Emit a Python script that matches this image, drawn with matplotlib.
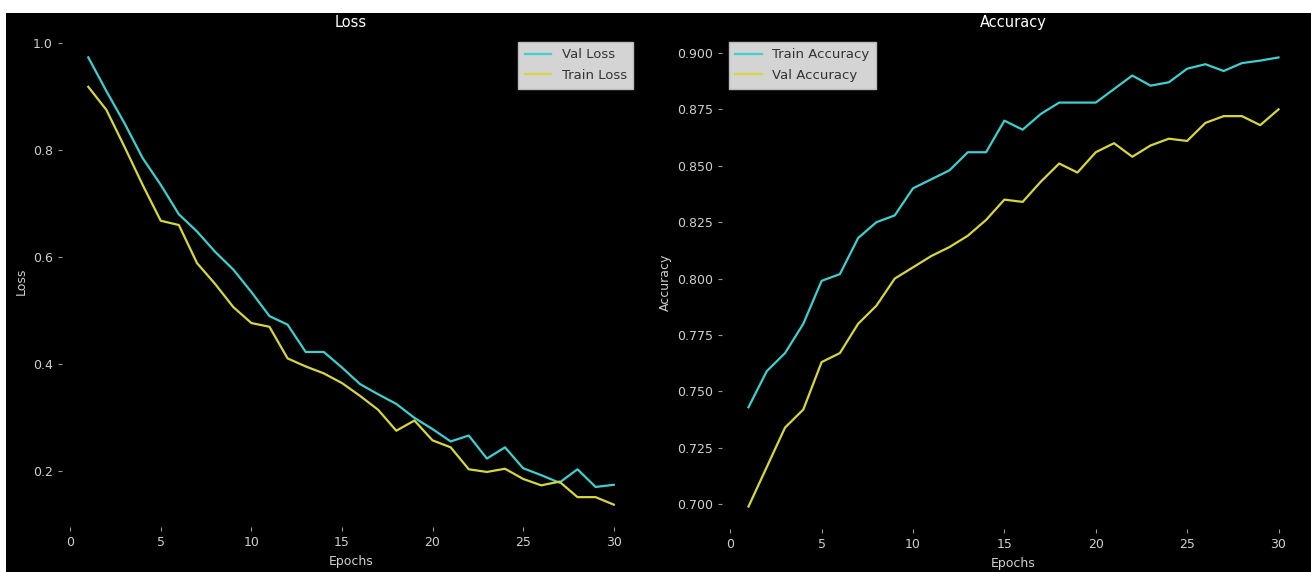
import numpy as np
import matplotlib
matplotlib.use('Agg')
from matplotlib import pyplot as plt
from matplotlib.patches import Rectangle

# data
epochs = list(range(1, 31))

val_loss = [0.973, 0.91, 0.85, 0.785, 0.735, 0.68, 0.648, 0.61, 0.577, 0.535,
            0.49, 0.474, 0.423, 0.423, 0.394, 0.363, 0.344, 0.326, 0.30, 0.279,
            0.256, 0.267, 0.224, 0.245, 0.206, 0.193, 0.179, 0.204, 0.171, 0.175]
train_loss = [0.918, 0.875, 0.806, 0.735, 0.668, 0.66, 0.589, 0.55, 0.507, 0.477,
              0.47, 0.411, 0.396, 0.383, 0.365, 0.341, 0.315, 0.276, 0.295, 0.258,
              0.245, 0.204, 0.199, 0.205, 0.186, 0.174, 0.181, 0.152, 0.152, 0.138]

train_acc = [0.743, 0.759, 0.767, 0.780, 0.799, 0.802, 0.818, 0.825, 0.828, 0.840,
             0.844, 0.848, 0.856, 0.856, 0.870, 0.866, 0.873, 0.878, 0.878, 0.878,
             0.884, 0.890, 0.8855, 0.887, 0.893, 0.895, 0.892, 0.8955, 0.8966, 0.898]
val_acc = [0.699, 0.7165, 0.734, 0.742, 0.763, 0.767, 0.780, 0.788, 0.800, 0.805,
           0.810, 0.814, 0.819, 0.826, 0.835, 0.834, 0.843, 0.851, 0.847, 0.856,
           0.860, 0.854, 0.859, 0.862, 0.861, 0.869, 0.872, 0.872, 0.868, 0.875]

cyan = '#3fcfcf'
yellow = '#d6d63e'

fig = plt.figure(figsize=(13.11, 5.72), dpi=100, facecolor='white')
# black area below the white strip at the top / left
bg = Rectangle((6/1311, 0), 1, 1 - 13/572, transform=fig.transFigure,
               facecolor='black', edgecolor='none', zorder=-10)
fig.patches.append(bg)

ax1 = fig.add_axes([62/1311, 1 - 527/572, 578/1311, 492/572])
ax2 = fig.add_axes([722/1311, 1 - 529/572, 583/1311, 494/572])

def style(ax):
    ax.set_facecolor('black')
    for s in ax.spines.values():
        s.set_visible(False)
    ax.tick_params(colors='#9a9a9a', labelcolor='#d0d0d0', labelsize=9, length=3)

leg_kw = dict(facecolor='#d4d4d4', edgecolor='#bbbbbb', framealpha=1,
              fontsize=9.5, labelcolor='#333333', labelspacing=0.6,
              borderpad=0.5, fancybox=False)

#loss plot
ax1.plot(epochs, val_loss, color=cyan, lw=1.6, label='Val Loss')
ax1.plot(epochs, train_loss, color=yellow, lw=1.6, label='Train Loss')
ax1.set_xticks([0, 5, 10, 15, 20, 25, 30])
ax1.set_yticks([0.2, 0.4, 0.6, 0.8, 1.0])
ax1.set_xlim(-0.45, 31.45)
ax1.set_title('Loss', color='white', fontsize=10.5)
ax1.set_xlabel('Epochs', color='#d0d0d0', fontsize=9)
ax1.set_ylabel('Loss', color='#d0d0d0', fontsize=9)
style(ax1)
ax1.legend(loc='upper right', **leg_kw)

#accuracy plot
ax2.plot(epochs, train_acc, color=cyan, lw=1.6, label='Train Accuracy')
ax2.plot(epochs, val_acc, color=yellow, lw=1.6, label='Val Accuracy')
ax2.set_xticks([0, 5, 10, 15, 20, 25, 30])
ax2.set_yticks([0.700, 0.725, 0.750, 0.775, 0.800, 0.825, 0.850, 0.875, 0.900])
ax2.yaxis.set_major_formatter(matplotlib.ticker.FormatStrFormatter('%.3f'))
ax2.set_xlim(-0.45, 31.45)
ax2.set_title('Accuracy', color='white', fontsize=10.5)
ax2.set_xlabel('Epochs', color='#d0d0d0', fontsize=9)
ax2.set_ylabel('Accuracy', color='#d0d0d0', fontsize=9)
style(ax2)
ax2.legend(loc='upper left', **leg_kw)

fig.savefig('out.png', dpi=100, facecolor=fig.get_facecolor())
